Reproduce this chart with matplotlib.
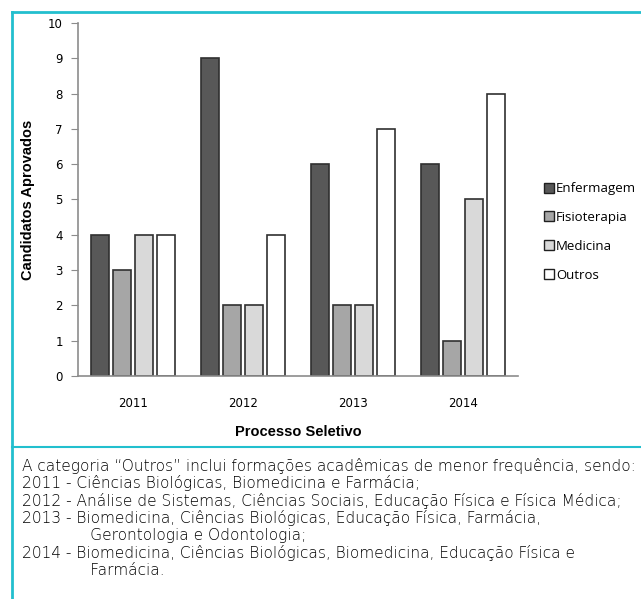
import numpy as np
import matplotlib
matplotlib.use('Agg')
from matplotlib import pyplot as plt
from matplotlib.lines import Line2D

# Dados
anos = ['2011', '2012', '2013', '2014']
enfermagem = [4, 9, 6, 6]
fisioterapia = [3, 2, 2, 1]
medicina = [4, 2, 2, 5]
outros = [4, 4, 7, 8]

series = [('Enfermagem', enfermagem, '#585858'),
          ('Fisioterapia', fisioterapia, '#a6a6a6'),
          ('Medicina', medicina, '#d9d9d9'),
          ('Outros', outros, '#ffffff')]

nota = ['A categoria \u201cOutros\u201d inclui formações acadêmicas de menor frequência, sendo:',
        '2011 - Ciências Biológicas, Biomedicina e Farmácia;',
        '2012 - Análise de Sistemas, Ciências Sociais, Educação Física e Física Médica;',
        '2013 - Biomedicina, Ciências Biológicas, Educação Física, Farmácia,',
        '              Gerontologia e Odontologia;',
        '2014 - Biomedicina, Ciências Biológicas, Biomedicina, Educação Física e',
        '              Farmácia.']

teal = '#22bfce'
W, H = 641, 599

fig = plt.figure(figsize=(W / 100, H / 100), dpi=100)
ax = fig.add_axes([78 / W, (H - 376) / H, 440 / W, 353 / H])

x = np.arange(len(anos))
step = 0.2
width = 0.165
for i, (nome, vals, cor) in enumerate(series):
    ax.bar(x + (i - 1.5) * step, vals, width, color=cor, edgecolor='#303030',
           linewidth=1.2, label=nome, zorder=2)

ax.set_xlim(-0.5, 3.5)
ax.set_ylim(0, 10)
ax.set_yticks(range(0, 11))
ax.set_xticks(x)
ax.set_xticklabels(anos)
for s in ['top', 'right']:
    ax.spines[s].set_visible(False)
for s in ['left', 'bottom']:
    ax.spines[s].set_color('#8c8c8c')
    ax.spines[s].set_linewidth(1.2)
ax.tick_params(axis='y', direction='out', length=5, color='#8c8c8c', labelsize=8.5, pad=6)
ax.tick_params(axis='x', length=0, labelsize=8.5, pad=15)

ax.set_ylabel('Candidatos Aprovados', fontweight='bold', fontsize=10.5,
              family=['Liberation Sans Narrow', 'Liberation Sans'], labelpad=9)
ax.set_xlabel('Processo Seletivo', fontweight='bold', fontsize=10.5,
              family=['Liberation Sans Narrow', 'Liberation Sans'], labelpad=11)

handles = [Line2D([], [], marker='s', linestyle='', markersize=7, markerfacecolor=c,
                  markeredgecolor='#202020', markeredgewidth=1.0) for _, _, c in series]
fig.legend(handles, [s[0] for s in series], loc='upper left',
           bbox_to_anchor=(537 / W, (H - 177) / H), frameon=False,
           prop={'family': 'Open Sans', 'size': 9.5}, labelspacing=1.2,
           handletextpad=0.05, handlelength=1.0, borderaxespad=0)

# moldura
fig.add_artist(Line2D([12 / W, 1], [(H - 12) / H] * 2, color=teal, lw=2))
fig.add_artist(Line2D([12 / W] * 2, [0, (H - 12) / H], color=teal, lw=2))
fig.add_artist(Line2D([12 / W, 1], [(H - 447) / H] * 2, color=teal, lw=1.5))

for k, linha in enumerate(nota):
    fig.text(22 / W, (H - 466 - k * 17.4) / H, linha, fontsize=11.1, family='DejaVu Sans',
             fontweight='light', color='#000000', va='center', ha='left')

fig.savefig('out.png', dpi=100)
